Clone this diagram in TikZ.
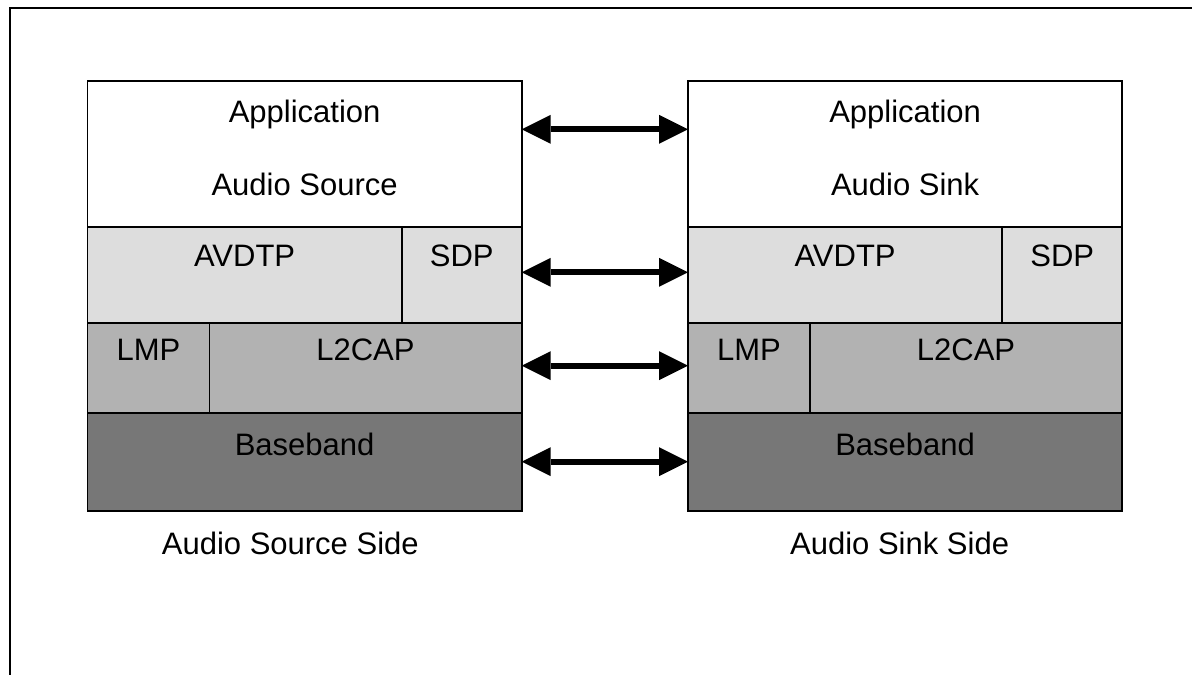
\documentclass[tikz,border=0pt]{standalone}
\usepackage{fontspec}
\setmainfont{Liberation Sans}
\usetikzlibrary{arrows.meta}
\definecolor{layerA}{HTML}{DDDDDD}
\definecolor{layerB}{HTML}{B2B2B2}
\definecolor{layerC}{HTML}{777777}
\begin{document}
\begin{tikzpicture}[x=1pt,y=-1pt,
  cell/.style={draw, line width=1.6pt, inner sep=0pt, outer sep=0pt, anchor=north west},
  txt/.style={inner sep=0pt, anchor=base, font=\fontsize{31}{36}\selectfont},
  tipA/.tip={Triangle[length=29pt,width=29pt,line width=0pt]},
  link/.style={line width=6pt, tipA-tipA}]
\useasboundingbox (0,0) rectangle (1192,675);
% outer frame (top and left only)
\draw[line width=2pt] (9.5,675) -- (9.5,8) -- (1192,8);
\foreach \s/\dx/\nm/\lab/\lx in {L/0/Audio Source/Audio Source Side/161.7, R/600.5/Audio Sink/Audio Sink Side/790}{
  \begin{scope}[xshift=\dx pt]
    \node[cell, fill=white, minimum width=434.2pt, minimum height=146pt] (app\s) at (87.5,81) {};
    \node[cell, fill=layerA, minimum width=314.2pt, minimum height=96pt] (avdtp\s) at (87.5,227) {};
    \node[cell, fill=layerA, minimum width=120pt, minimum height=96pt] (sdp\s) at (401.7,227) {};
    \node[cell, fill=layerB, minimum width=121.8pt, minimum height=90pt] (lmp\s) at (87.5,323) {};
    \node[cell, fill=layerB, minimum width=312.4pt, minimum height=90pt] (ltcap\s) at (209.3,323) {};
    \node[cell, fill=layerC, minimum width=434.2pt, minimum height=97.7pt] (bb\s) at (87.5,413) {};
    \node[txt] (tapp\s) at (304.6,122.7) {Application};
    \node[txt] (tname\s) at (304.6,195) {\nm};
    \node[txt] (tavdtp\s) at (244.6,266.5) {AVDTP};
    \node[txt] (tsdp\s) at (461.7,266.5) {SDP};
    \node[txt] (tlmp\s) at (148.4,360) {LMP};
    \node[txt] (tltcap\s) at (365.5,360) {L2CAP};
    \node[txt] (tbb\s) at (304.6,455.5) {Baseband};
  \end{scope}
  \node[txt, anchor=base west] (side\s) at (\lx,554) {\lab};
}
\draw[link] ([yshift=24.7pt]appL.east) -- ([yshift=24.7pt]appR.west);
\draw[link] ([yshift=2.7pt]sdpL.east) -- ([yshift=2.7pt]avdtpR.west);
\draw[link] ([yshift=2.3pt]ltcapL.east) -- ([yshift=2.3pt]lmpR.west);
\draw[link] ([yshift=0.2pt]bbL.east) -- ([yshift=0.2pt]bbR.west);
\end{tikzpicture}
\end{document}
